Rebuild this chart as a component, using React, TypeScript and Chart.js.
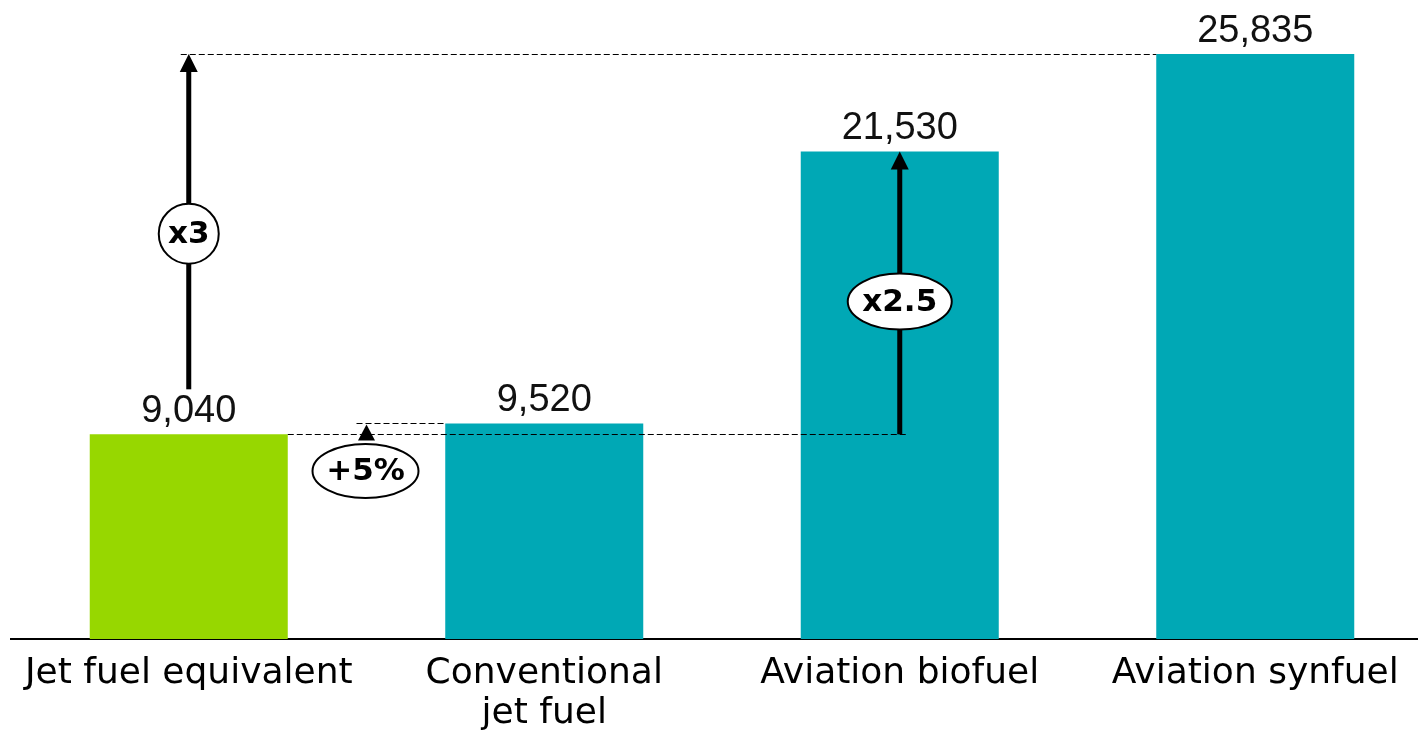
import React, { useEffect, useRef } from 'react';
import { Chart, registerables } from 'chart.js';

Chart.register(...registerables);

const categories: string[][] = [
  ['Jet fuel equivalent'],
  ['Conventional', 'jet fuel'],
  ['Aviation biofuel'],
  ['Aviation synfuel'],
];
const values: number[] = [9040, 9520, 21530, 25835];
const valueLabels: string[] = ['9,040', '9,520', '21,530', '25,835'];
const barColors: string[] = ['#97D700', '#00A8B5', '#00A8B5', '#00A8B5'];
const ratioLabels: string[] = ['x3', '+5%', 'x2.5'];
const yMax = 28000;

function drawArrow(ctx: CanvasRenderingContext2D, x: number, yFrom: number, yTip: number, shaftW: number, headW: number, headH: number) {
  ctx.fillStyle = '#000';
  if (yFrom > yTip + headH) {
    ctx.fillRect(x - shaftW / 2, yTip + headH - 1, shaftW, yFrom - (yTip + headH) + 1);
  }
  ctx.beginPath();
  ctx.moveTo(x, yTip);
  ctx.lineTo(x - headW / 2, yTip + headH);
  ctx.lineTo(x + headW / 2, yTip + headH);
  ctx.closePath();
  ctx.fill();
}

function dashed(ctx: CanvasRenderingContext2D, x1: number, x2: number, y: number) {
  const yy = Math.round(y) + 0.5;
  ctx.save();
  ctx.strokeStyle = '#000';
  ctx.lineWidth = 1.2;
  ctx.setLineDash([6, 3]);
  ctx.beginPath();
  ctx.moveTo(x1, yy);
  ctx.lineTo(x2, yy);
  ctx.stroke();
  ctx.restore();
}

function bubble(ctx: CanvasRenderingContext2D, cx: number, cy: number, rx: number, ry: number, text: string) {
  ctx.save();
  ctx.beginPath();
  ctx.ellipse(cx, cy, rx, ry, 0, 0, Math.PI * 2);
  ctx.fillStyle = '#fff';
  ctx.fill();
  ctx.lineWidth = 2;
  ctx.strokeStyle = '#000';
  ctx.stroke();
  ctx.fillStyle = '#000';
  ctx.font = 'bold 31px "DejaVu Sans"';
  ctx.textAlign = 'center';
  ctx.textBaseline = 'middle';
  ctx.fillText(text, cx, cy + 1);
  ctx.restore();
}

const annotations = {
  id: 'annotations',
  afterDatasetsDraw(chart: any) {
    const ctx: CanvasRenderingContext2D = chart.ctx;
    const bars = chart.getDatasetMeta(0).data as any[];
    const ys = chart.scales.y;
    const yv = (v: number) => ys.getPixelForValue(v);
    const left = (i: number) => bars[i].x - bars[i].width / 2;
    const right = (i: number) => bars[i].x + bars[i].width / 2;

    ctx.save();
    // value labels
    ctx.fillStyle = '#111';
    ctx.font = '38px "Liberation Sans"';
    ctx.textAlign = 'center';
    ctx.textBaseline = 'alphabetic';
    bars.forEach((b, i) => ctx.fillText(valueLabels[i], b.x, b.y - 12));

    // dashed reference lines
    dashed(ctx, bars[0].x - 8, left(3), yv(values[3]));
    dashed(ctx, right(0), bars[2].x + 8, yv(values[0]));
    const gapMid = (right(0) + left(1)) / 2;
    dashed(ctx, gapMid - 10, left(1), yv(values[1]));

    // arrows
    drawArrow(ctx, bars[0].x, yv(values[0]) - 45, yv(values[3]), 5, 18, 18);
    drawArrow(ctx, bars[2].x, yv(values[0]), yv(values[2]), 5, 18, 18);
    drawArrow(ctx, gapMid, yv(values[1]), yv(values[1]) + 1, 5, 17, 16);

    // bubbles
    bubble(ctx, bars[0].x, yv(17900), 30, 30, ratioLabels[0]);
    bubble(ctx, gapMid - 1, yv(7420), 53, 27, ratioLabels[1]);
    bubble(ctx, bars[2].x, yv(14900), 52, 28, ratioLabels[2]);
    ctx.restore();
  },
};

export default function App() {
  const canvasRef = useRef<HTMLCanvasElement | null>(null);

  useEffect(() => {
    if (!canvasRef.current) return;
    const chart = new Chart(canvasRef.current, {
      type: 'bar',
      data: {
        labels: categories,
        datasets: [
          {
            data: values,
            backgroundColor: barColors,
            borderWidth: 0,
            categoryPercentage: 1,
            barPercentage: 0.557,
          },
        ],
      },
      options: {
        animation: false,
        responsive: true,
        maintainAspectRatio: false,
        layout: { padding: { left: 11, right: 7, top: 5, bottom: 0 } },
        plugins: { legend: { display: false }, tooltip: { enabled: false } },
        scales: {
          x: {
            z: 1,
            grid: { display: false, drawTicks: false },
            border: { display: true, color: '#000', width: 2 },
            ticks: {
              color: '#000',
              padding: 15,
              maxRotation: 0,
              autoSkip: false,
              font: { family: 'DejaVu Sans', size: 36, lineHeight: 1.11 },
            },
            afterFit: (s: any) => {
              s.height = 92;
            },
          },
          y: {
            display: false,
            min: 0,
            max: yMax,
            grid: { display: false },
          },
        },
      },
      plugins: [annotations],
    });
    return () => chart.destroy();
  }, []);

  return (
    <div style={{ position: 'fixed', left: 0, top: 0, width: 1418, height: 731, overflow: 'hidden', background: '#fff' }}>
      <div style={{ position: 'relative', width: 1440, height: 731 }}>
        <canvas ref={canvasRef} />
      </div>
    </div>
  );
}
